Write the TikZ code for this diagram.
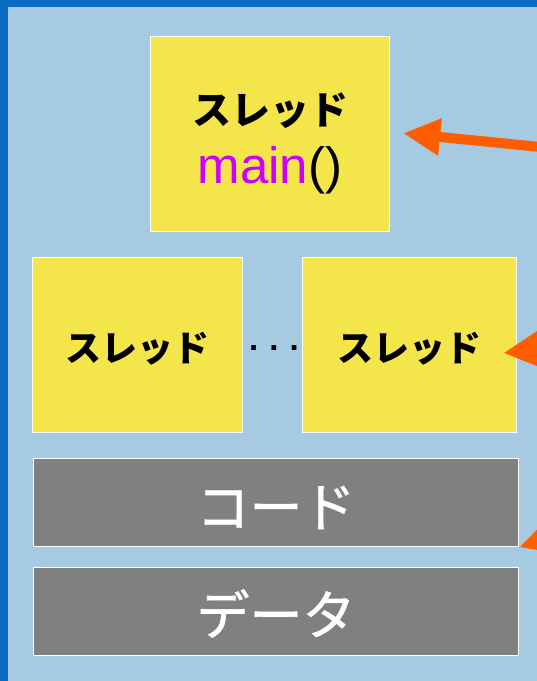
\documentclass[tikz,border=0pt]{standalone}
\usepackage{fontspec}
\setmainfont{Liberation Sans}
\newfontfamily\jp{Noto Sans CJK JP}
\newfontfamily\jpm[FakeBold=1.2]{Noto Sans CJK JP}
\usetikzlibrary{arrows.meta}
\definecolor{darkblue}{RGB}{10,107,192}
\definecolor{lightblue}{RGB}{166,202,226}
\definecolor{yellowc}{RGB}{244,230,74}
\definecolor{grayc}{RGB}{128,128,128}
\definecolor{orangec}{RGB}{255,94,0}
\definecolor{magentac}{RGB}{204,0,255}
\tikzset{
  yelbox/.style={draw=white, line width=1.5pt, fill=yellowc, inner sep=0pt},
  graybox/.style={draw=white, line width=1.5pt, fill=grayc, inner sep=0pt,
    minimum width=485pt, minimum height=88pt},
  graytext/.style={inner sep=0pt, text=white, font=\jpm\fontsize{53}{60}\selectfont},
  thr/.style={inner sep=0pt, font=\jp\bfseries\fontsize{36}{40}\selectfont},
  bigthr/.style={font=\jp\bfseries\fontsize{39}{44}\selectfont, inner sep=0pt},
  arr/.style={draw=orangec, line width=10pt, -{Triangle[length=37pt,width=35pt]}}
}
\begin{document}
\begin{tikzpicture}[x=1pt,y=-1pt]
\useasboundingbox (0,0) rectangle (537,681);
\clip (0,0) rectangle (537,681);
\fill[darkblue] (0,0) rectangle (537,681);
\fill[lightblue] (8,7) rectangle (537,681);
% main thread
\node[yelbox, minimum width=239pt, minimum height=195pt] (main) at (270,134) {};
\node[bigthr, anchor=base] (mainlbl) at (270,124.5) {スレッド};
\node[inner sep=0pt, anchor=base, font=\fontsize{51}{56}\selectfont] (mainfn) at (270,183) {\textcolor{magentac}{main}()};
% threads
\node[yelbox, minimum width=210pt, minimum height=175pt] (th1) at (137.5,345) {};
\node[yelbox, minimum width=214pt, minimum height=175pt] (th2) at (409.5,345) {};
\node[thr] (th1lbl) at ([yshift=-4pt]th1.center) {スレッド};
\node[thr] (th2lbl) at ([yshift=-4pt]th2.center) {スレッド};
\node[inner sep=0pt, font=\bfseries\fontsize{33}{36}\selectfont] (dots) at (274,348) {.\,\,.\,\,.};
% code and data
\node[graybox] (code) at (276,502.5) {};
\node[graybox] (data) at (276,611.5) {};
\node[graytext] (codelbl) at ([yshift=-5pt]code.center) {コード};
\node[graytext] (datalbl) at ([yshift=-2pt]data.center) {データ};
% arrows from outside
\coordinate (a1) at (600,153);
\coordinate (a2) at (600,343);
\coordinate (a3) at (600,521);
\draw[arr, shorten >=13pt] (a1) -- ([yshift=2pt]main.east);
\draw[arr] (a2) -- ([xshift=-14pt,yshift=-8pt]th2.east);
\draw[arr] (a3) -- (code.south east);
\end{tikzpicture}
\end{document}
